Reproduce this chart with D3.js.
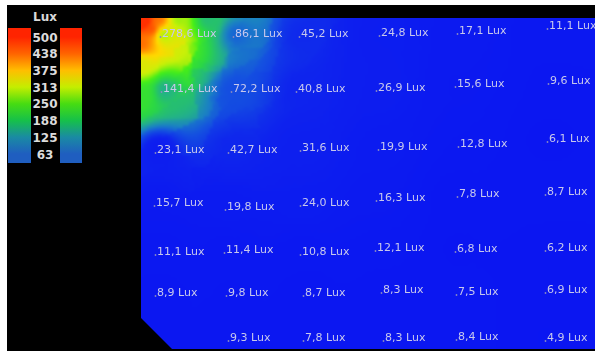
<!DOCTYPE html>
<html>
<head>
<meta charset="utf-8">
<script src="https://cdn.jsdelivr.net/npm/d3@7"></script>
<style>
  html, body { margin: 0; padding: 0; background: #fff; }
  svg { display: block; }
</style>
</head>
<body>
<svg id="chart" width="595" height="351"></svg>
<script>
// Sensor positions in the room (metres) and measured illuminance (lux)
const sensorX = [
  0.42, 1.88, 3.20, 4.80, 6.36, 8.16,
  0.44, 1.84, 3.14, 4.74, 6.32, 8.18,
  0.32, 1.78, 3.22, 4.78, 6.38, 8.16,
  0.30, 1.72, 3.22, 4.74, 6.36, 8.12,
  0.32, 1.70, 3.22, 4.72, 6.32, 8.12,
  0.32, 1.74, 3.28, 4.84, 6.34, 8.12,
        1.78, 3.28, 4.88, 6.34, 8.12
];
const sensorY = [
  0.30, 0.30, 0.30, 0.28, 0.24, 0.14,
  1.40, 1.40, 1.40, 1.38, 1.30, 1.24,
  2.62, 2.62, 2.58, 2.56, 2.50, 2.40,
  3.68, 3.76, 3.68, 3.58, 3.50, 3.46,
  4.66, 4.62, 4.66, 4.58, 4.60, 4.58,
  5.48, 5.48, 5.48, 5.42, 5.46, 5.42,
        6.38, 6.38, 6.38, 6.36, 6.38
];
const sensorLux = [
  278.6, 86.1, 45.2, 24.8, 17.1, 11.1,
  141.4, 72.2, 40.8, 26.9, 15.6, 9.6,
  23.1, 42.7, 31.6, 19.9, 12.8, 6.1,
  15.7, 19.8, 24.0, 16.3, 7.8, 8.7,
  11.1, 11.4, 10.8, 12.1, 6.8, 6.2,
  8.9, 9.8, 8.7, 8.3, 7.5, 6.9,
  9.3, 7.8, 8.3, 8.4, 4.9
];

// Estimated levels along the walls near the light source (lux)
const edgeX = [0.00, 0.00, 0.00, 0.00, 0.20, 0.35, 0.70, 1.30];
const edgeY = [0.00, 0.50, 0.90, 1.50, 0.20, 0.00, 0.00, 0.00];
const edgeLux = [580, 470, 340, 220, 500, 470, 290, 160];

// Room outline (metres), with the cut corner at the bottom left
const roomX = [0, 9.08, 9.08, 0.62, 0];
const roomY = [0, 0, 6.62, 6.62, 6.00];

// Colour legend ticks (lux)
const legendTicks = [500, 438, 375, 313, 250, 188, 125, 63];
const legendColors = ["#ff2400", "#ff6400", "#ffbe00", "#c4ee00", "#46dc12", "#16c04a", "#1a8aa4", "#1f5ec0"];

// Colour ramp used for the illuminance field
const fieldStops = [0, 40, 75, 105, 145, 195, 255, 320, 385, 445, 510];
const fieldColors = ["#0a14f2", "#0e22ee", "#1450e0", "#1a80c4", "#22b08a", "#2ad646", "#46ee18", "#c8f008", "#ffd800", "#ff8c00", "#ff3000"];

const W = 595, H = 351;
const svg = d3.select("#chart");

const x = d3.scaleLinear().domain([0, 9.08]).range([141, 595]);
const y = d3.scaleLinear().domain([0, 6.62]).range([18, 349]);
const fieldColor = d3.scaleLinear().domain(fieldStops).range(fieldColors).clamp(true);

// Black backdrop
svg.append("rect").attr("x", 7).attr("y", 5).attr("width", W - 7).attr("height", H - 5).attr("fill", "#000");

// ---- Interpolated illuminance field (inverse distance weighting) ----
const pts = sensorX.map((sx, i) => ({ x: sx, y: sensorY[i], v: sensorLux[i] }))
  .concat(edgeX.map((ex, i) => ({ x: ex, y: edgeY[i], v: edgeLux[i] })));

const step = 3;
const fx0 = x(0), fy0 = y(0);
const fw = x(9.08) - fx0, fh = y(6.62) - fy0;
const cols = Math.ceil(fw / step) + 1, rows = Math.ceil(fh / step) + 1;

const small = document.createElement("canvas");
small.width = cols; small.height = rows;
const sctx = small.getContext("2d");
const img = sctx.createImageData(cols, rows);
for (let r = 0; r < rows; r++) {
  for (let c = 0; c < cols; c++) {
    const mx = x.invert(fx0 + c * step), my = y.invert(fy0 + r * step);
    const near = pts.map(p => ({ d2: (p.x - mx) ** 2 + (p.y - my) ** 2, v: p.v }))
      .sort((a, b) => a.d2 - b.d2).slice(0, 8);
    let ws = 0, vs = 0;
    for (const n of near) {
      const w = 1 / Math.pow(n.d2 + 0.01, 1.25);
      ws += w; vs += w * n.v;
    }
    const col = d3.rgb(fieldColor(vs / ws));
    const k = (r * cols + c) * 4;
    img.data[k] = col.r; img.data[k + 1] = col.g; img.data[k + 2] = col.b; img.data[k + 3] = 255;
  }
}
sctx.putImageData(img, 0, 0);

const big = document.createElement("canvas");
big.width = Math.round(fw); big.height = Math.round(fh);
const bctx = big.getContext("2d");
bctx.imageSmoothingEnabled = true;
bctx.imageSmoothingQuality = "high";
bctx.drawImage(small, 0, 0, cols, rows, 0, 0, (cols - 1) * step + 1, (rows - 1) * step + 1);

const defs = svg.append("defs");
defs.append("clipPath").attr("id", "room")
  .append("path")
  .attr("d", d3.line().x(d => x(d[0])).y(d => y(d[1]))(roomX.map((v, i) => [v, roomY[i]])) + "Z");

svg.append("image")
  .attr("x", fx0).attr("y", fy0)
  .attr("width", big.width).attr("height", big.height)
  .attr("preserveAspectRatio", "none")
  .attr("href", big.toDataURL())
  .attr("clip-path", "url(#room)");

// Soft text
const soft = defs.append("filter").attr("id", "soft").attr("x", "-5%").attr("y", "-20%").attr("width", "110%").attr("height", "140%");
soft.append("feGaussianBlur").attr("stdDeviation", 0.45);

// ---- Sensor readings ----
const fmt = d3.formatLocale({ decimal: ",", thousands: ".", grouping: [3], currency: ["", ""] }).format(".1f");
const readings = svg.append("g").attr("filter", "url(#soft)");
const g = readings.selectAll("g").data(pts.slice(0, sensorLux.length)).join("g")
  .attr("transform", d => `translate(${x(d.x)},${y(d.y)})`);
g.append("circle").attr("cx", -1.5).attr("cy", 4).attr("r", 0.9).attr("fill", "#8888c0");
g.append("text")
  .attr("x", 0).attr("y", 4)
  .attr("font-family", "DejaVu Sans, sans-serif")
  .attr("font-size", 11)
  .attr("fill", "#c8c8ec")
  .text(d => `${fmt(d.v)} Lux`);

// ---- Legend ----
const ly = d3.scaleLinear().domain([500, 63]).range([37, 154]);
const grad = defs.append("linearGradient").attr("id", "legendGrad")
  .attr("x1", 0).attr("y1", 0).attr("x2", 0).attr("y2", 1);
grad.selectAll("stop").data(legendTicks).join("stop")
  .attr("offset", d => (ly(d) - 28) / (163 - 28))
  .attr("stop-color", (d, i) => legendColors[i]);

const legend = svg.append("g");
[[8, 23], [60, 22]].forEach(([bx, bw]) => {
  legend.append("rect").attr("x", bx).attr("y", 28).attr("width", bw).attr("height", 135)
    .attr("fill", "url(#legendGrad)");
});
legend.append("text")
  .attr("x", 45).attr("y", 21)
  .attr("text-anchor", "middle")
  .attr("font-family", "DejaVu Sans, sans-serif")
  .attr("font-size", 12)
  .attr("font-weight", "bold")
  .attr("fill", "#d8d8d8")
  .text("Lux");
legend.selectAll("text.tick").data(legendTicks).join("text")
  .attr("class", "tick")
  .attr("x", 45).attr("y", d => ly(d) + 4.5)
  .attr("text-anchor", "middle")
  .attr("font-family", "DejaVu Sans, sans-serif")
  .attr("font-size", 12)
  .attr("font-weight", "bold")
  .attr("fill", "#dcdcdc")
  .text(d => d);
</script>
</body>
</html>
